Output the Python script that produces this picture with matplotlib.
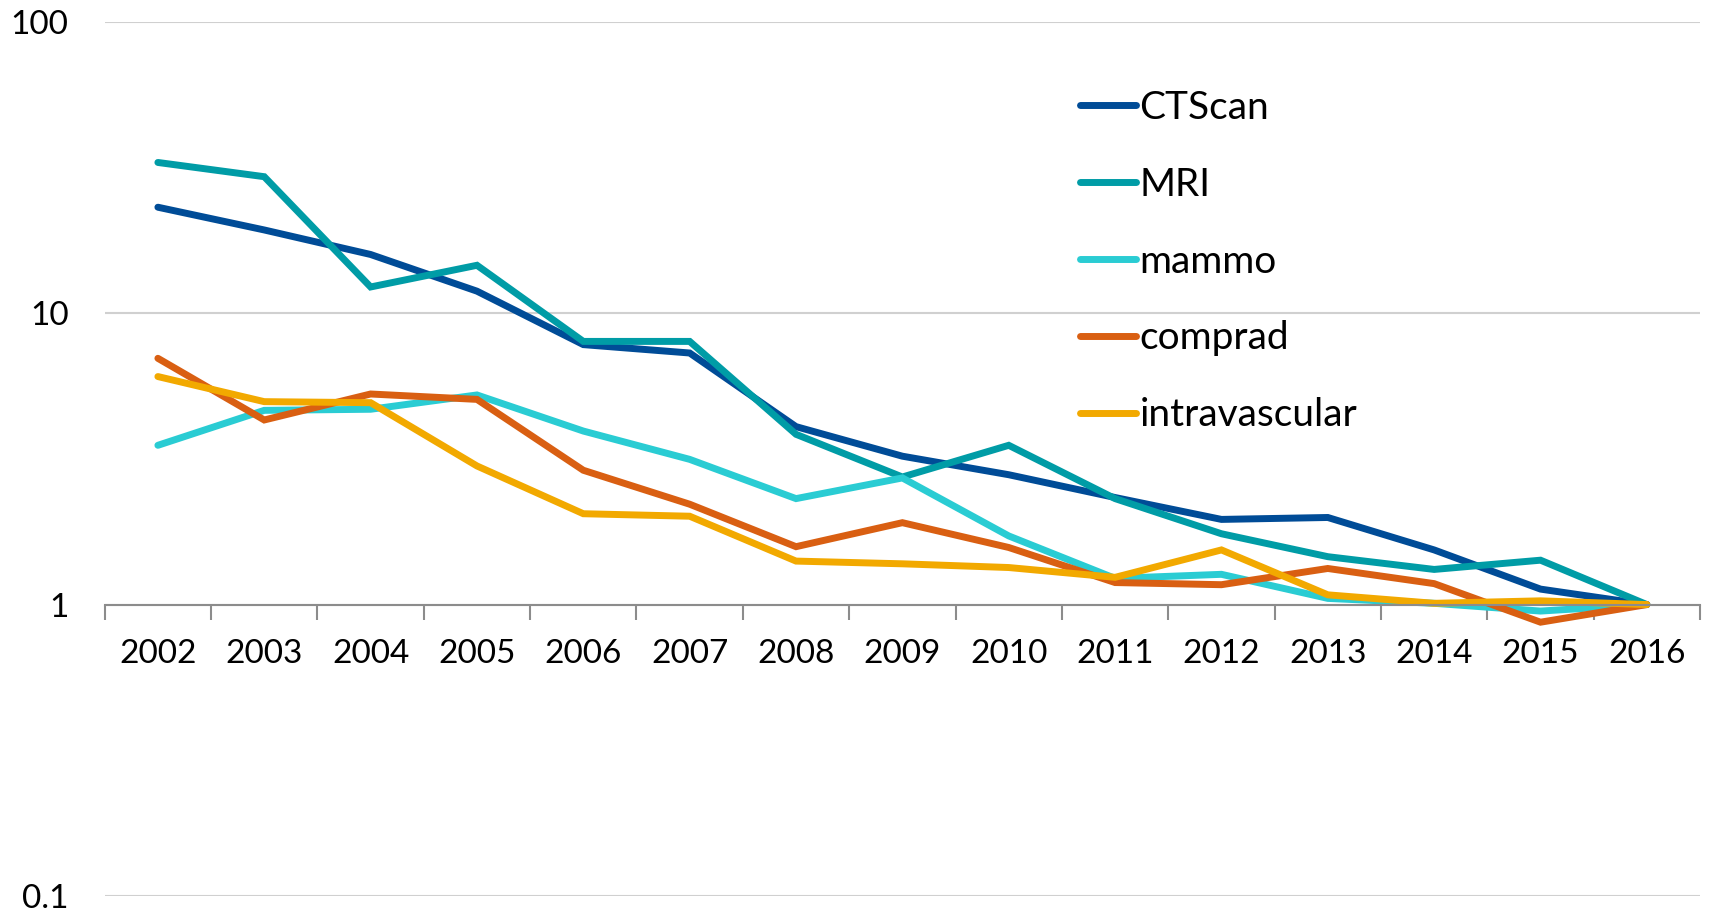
import matplotlib.pyplot as plt
from matplotlib.ticker import FixedLocator, NullFormatter

plt.rcParams['font.family'] = ['Lato', 'DejaVu Sans']

years = [str(y) for y in range(2002, 2017)]

ct_scan = [23.1, 19.3, 15.9, 11.9, 7.8, 7.3, 4.08, 3.23, 2.79, 2.33, 1.96, 1.99, 1.54, 1.13, 1.0]
mri = [32.9, 29.4, 12.3, 14.6, 8.0, 8.0, 3.84, 2.74, 3.52, 2.31, 1.75, 1.46, 1.32, 1.42, 1.0]
mammo = [3.52, 4.64, 4.68, 5.24, 3.94, 3.15, 2.31, 2.72, 1.72, 1.23, 1.27, 1.05, 1.01, 0.95, 1.0]
comprad = [7.0, 4.3, 5.28, 5.06, 2.89, 2.21, 1.58, 1.91, 1.57, 1.19, 1.17, 1.33, 1.18, 0.87, 1.0]
intravascular = [6.06, 4.97, 4.93, 2.99, 2.05, 2.01, 1.41, 1.38, 1.34, 1.24, 1.54, 1.08, 1.01, 1.03, 1.0]

series_names = ['CTScan', 'MRI', 'mammo', 'comprad', 'intravascular']
series_values = [ct_scan, mri, mammo, comprad, intravascular]
colors = ['#004C97', '#009CA6', '#2ACCD3', '#D95F12', '#F2A900']

y_ticks = [0.1, 1, 10, 100]
y_tick_labels = ['0.1', '1', '10', '100']

fig = plt.figure(figsize=(17.11, 9.15), dpi=100)
ax = fig.add_axes([0.0612, 0.0208, 0.9324, 0.9554])

x = list(range(len(years)))
for name, values, color in zip(series_names, series_values, colors):
    ax.plot(x, values, color=color, lw=5, label=name, solid_capstyle='round',
            solid_joinstyle='miter')

ax.set_yscale('log')
ax.set_ylim(0.1, 100)
ax.set_xlim(-0.5, len(years) - 0.5)

# horizontal gridlines
ax.yaxis.set_major_locator(FixedLocator(y_ticks))
ax.yaxis.set_minor_locator(FixedLocator([]))
ax.set_yticklabels(y_tick_labels)
ax.yaxis.grid(True, color='#D0D0D0', lw=1.5)
ax.set_axisbelow(True)
ax.tick_params(axis='y', length=0, pad=26, labelsize=24)

# category axis crosses at 1
for s in ['top', 'right', 'left']:
    ax.spines[s].set_visible(False)
ax.spines['bottom'].set_position(('data', 1))
ax.spines['bottom'].set_color('#8C8C8C')
ax.spines['bottom'].set_linewidth(1.5)
ax.set_xticks(x)
ax.set_xticklabels(years)
ax.xaxis.set_minor_locator(FixedLocator([i - 0.5 for i in range(len(years) + 1)]))
ax.xaxis.set_minor_formatter(NullFormatter())
ax.tick_params(axis='x', which='major', length=0, pad=25, labelsize=24)
ax.tick_params(axis='x', which='minor', length=11, width=1.5, color='#8C8C8C')

leg = ax.legend(loc='upper left', bbox_to_anchor=(1080 / 1711, 1 - 90 / 915),
                bbox_transform=fig.transFigure, frameon=False, fontsize=28,
                handlelength=1.45, handletextpad=0.08, labelspacing=1.05,
                borderaxespad=0, borderpad=0)
for line in leg.get_lines():
    line.set_linewidth(5)
    line.set_solid_capstyle('round')

fig.savefig('out.png', dpi=100)
